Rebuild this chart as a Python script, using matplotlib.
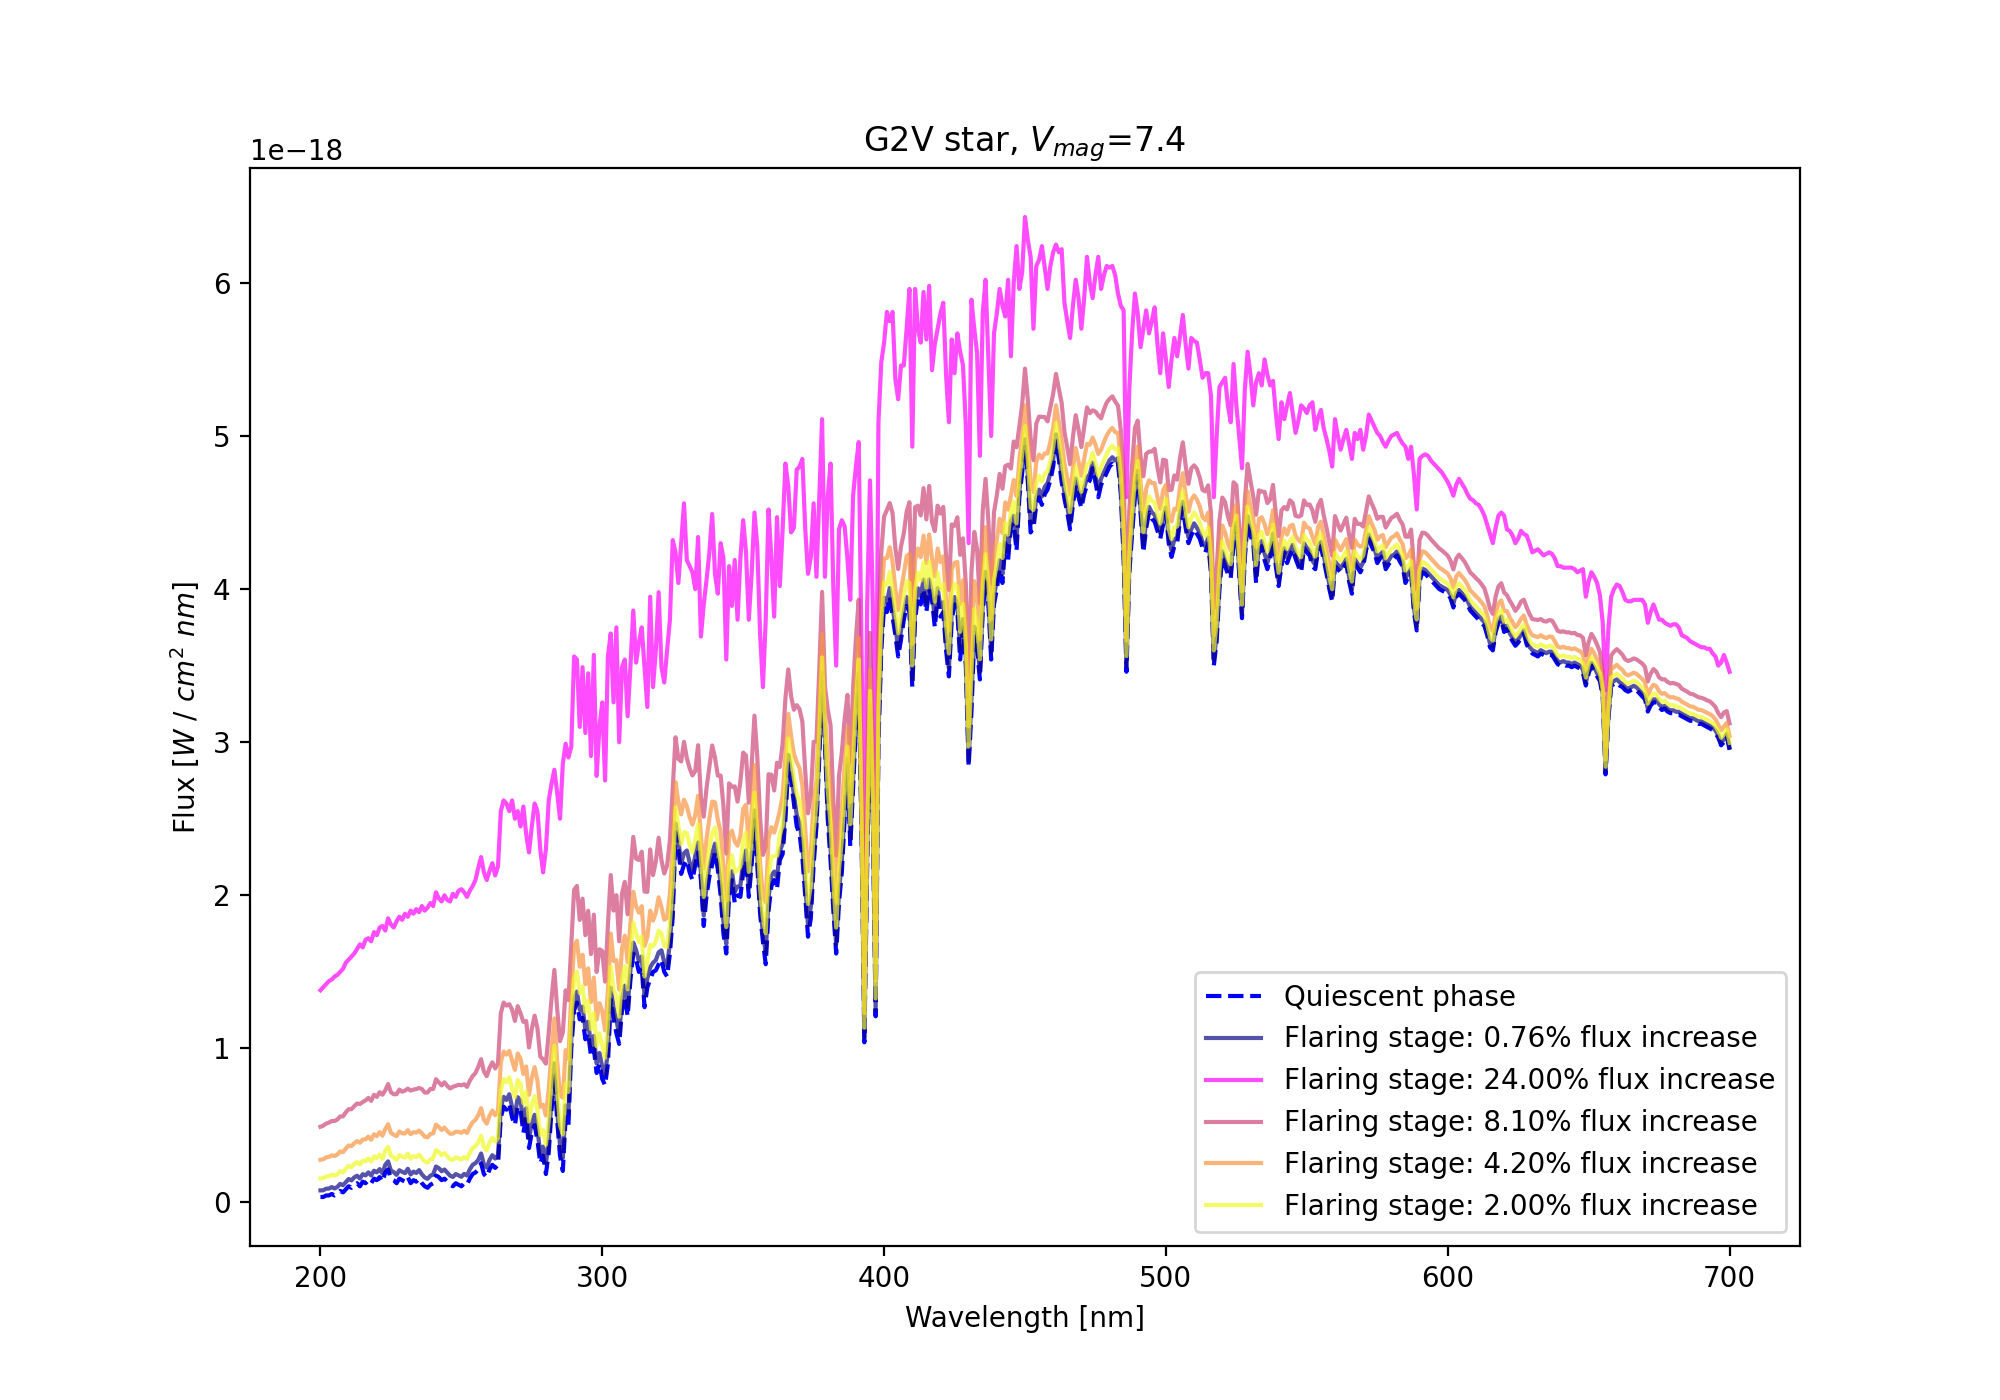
"""G2V star spectrum: quiescent phase vs. several flaring stages."""

import matplotlib
matplotlib.use("Agg")
import matplotlib.pyplot as plt
import numpy as np

# Quiescent flux, units of 1e-18 W/cm^2/nm, one sample per nm from 200 nm
quiescent = [
    0.03, 0.03, 0.04, 0.04, 0.05, 0.04, 0.05, 0.07, 0.06, 0.08,  # 200
    0.10, 0.09, 0.11, 0.12, 0.10, 0.13, 0.12, 0.14, 0.12, 0.15,  # 210
    0.14, 0.16, 0.13, 0.19, 0.21, 0.15, 0.14, 0.12, 0.15, 0.14,  # 220
    0.13, 0.16, 0.12, 0.14, 0.13, 0.15, 0.12, 0.10, 0.09, 0.11,  # 230
    0.12, 0.17, 0.16, 0.14, 0.15, 0.13, 0.11, 0.10, 0.12, 0.11,  # 240
    0.10, 0.12, 0.11, 0.15, 0.18, 0.19, 0.21, 0.25, 0.18, 0.16,  # 250
    0.21, 0.24, 0.22, 0.24, 0.55, 0.62, 0.60, 0.64, 0.55, 0.50,  # 260
    0.62, 0.60, 0.45, 0.55, 0.35, 0.45, 0.50, 0.40, 0.25, 0.30,  # 270
    0.18, 0.32, 0.60, 0.84, 0.53, 0.30, 0.20, 0.55, 0.50, 1.00,  # 280
    1.25, 1.30, 1.19, 1.20, 1.06, 1.10, 0.95, 1.00, 0.84, 0.90,  # 290
    0.80, 0.76, 0.90, 1.32, 1.20, 1.10, 1.03, 1.25, 1.34, 1.21,  # 300
    1.45, 1.62, 1.58, 1.50, 1.53, 1.27, 1.40, 1.45, 1.50, 1.51,  # 310
    1.55, 1.58, 1.50, 1.47, 1.62, 1.86, 2.41, 2.30, 2.14, 2.20,  # 320
    2.23, 2.15, 2.10, 2.20, 2.28, 2.10, 1.80, 2.00, 2.12, 2.20,  # 330
    2.28, 2.17, 2.00, 1.75, 1.62, 2.00, 2.10, 1.95, 2.00, 1.99,  # 340
    2.15, 2.23, 1.99, 2.20, 2.49, 2.20, 1.88, 1.70, 1.55, 1.90,  # 350
    2.06, 2.10, 2.04, 2.23, 2.27, 2.50, 2.86, 2.75, 2.60, 2.45,  # 360
    2.40, 2.25, 2.00, 1.73, 1.85, 2.20, 2.45, 2.90, 3.40, 3.00,  # 370
    2.50, 2.23, 1.90, 1.62, 1.95, 2.15, 2.50, 2.85, 2.32, 2.70,  # 380
    3.10, 3.40, 2.40, 1.04, 2.20, 3.20, 2.50, 1.21, 3.00, 3.60,  # 390
    3.89, 3.85, 3.95, 3.82, 3.70, 3.56, 3.67, 3.80, 3.89, 3.85,  # 400
    3.36, 3.80, 3.95, 3.90, 4.00, 3.85, 4.00, 3.93, 3.75, 3.95,  # 410
    3.82, 3.85, 3.60, 3.43, 3.80, 3.90, 3.85, 3.54, 3.75, 3.50,  # 420
    2.84, 3.20, 3.69, 3.60, 3.41, 3.85, 4.05, 3.90, 3.54, 3.90,  # 430
    4.00, 4.13, 4.04, 4.30, 4.19, 4.41, 4.43, 4.25, 4.60, 4.76,  # 440
    4.93, 4.70, 4.37, 4.40, 4.55, 4.60, 4.55, 4.62, 4.65, 4.71,  # 450
    4.80, 4.97, 4.85, 4.70, 4.59, 4.50, 4.39, 4.55, 4.68, 4.60,  # 460
    4.53, 4.62, 4.68, 4.71, 4.79, 4.70, 4.60, 4.68, 4.72, 4.76,  # 470
    4.80, 4.82, 4.80, 4.82, 4.62, 4.20, 3.46, 4.10, 4.36, 4.60,  # 480
    4.74, 4.50, 4.24, 4.40, 4.50, 4.46, 4.44, 4.38, 4.33, 4.42,  # 490
    4.50, 4.30, 4.21, 4.28, 4.30, 4.45, 4.53, 4.40, 4.30, 4.35,  # 500
    4.39, 4.36, 4.33, 4.27, 4.24, 4.30, 4.10, 3.50, 3.66, 4.00,  # 510
    4.21, 4.15, 4.10, 4.07, 4.30, 4.41, 4.10, 3.81, 4.20, 4.44,  # 520
    4.35, 4.30, 4.04, 4.25, 4.28, 4.19, 4.13, 4.20, 4.33, 4.15,  # 530
    4.02, 4.15, 4.24, 4.17, 4.22, 4.26, 4.20, 4.15, 4.11, 4.27,  # 540
    4.24, 4.22, 4.15, 4.13, 4.25, 4.28, 4.19, 4.10, 4.00, 3.92,  # 550
    4.15, 4.13, 4.11, 4.14, 4.17, 4.05, 3.97, 4.17, 4.14, 4.11,  # 560
    4.15, 4.25, 4.33, 4.28, 4.24, 4.17, 4.20, 4.22, 4.13, 4.16,  # 570
    4.19, 4.20, 4.22, 4.18, 4.15, 4.04, 4.08, 4.11, 3.85, 3.73,  # 580
    4.05, 4.11, 4.10, 4.08, 4.06, 4.04, 4.02, 4.00, 3.99, 3.98,  # 590
    3.97, 3.94, 3.88, 3.95, 3.97, 3.95, 3.93, 3.90, 3.86, 3.84,  # 600
    3.82, 3.80, 3.78, 3.76, 3.70, 3.62, 3.60, 3.72, 3.78, 3.80,  # 610
    3.72, 3.74, 3.69, 3.66, 3.63, 3.65, 3.68, 3.71, 3.64, 3.60,  # 620
    3.58, 3.57, 3.56, 3.58, 3.57, 3.56, 3.57, 3.57, 3.54, 3.51,  # 630
    3.50, 3.51, 3.50, 3.50, 3.49, 3.50, 3.49, 3.48, 3.45, 3.37,  # 640
    3.45, 3.50, 3.47, 3.43, 3.40, 3.30, 2.79, 3.15, 3.37, 3.38,  # 650
    3.39, 3.37, 3.36, 3.34, 3.33, 3.34, 3.35, 3.34, 3.32, 3.30,  # 660
    3.28, 3.20, 3.24, 3.26, 3.26, 3.23, 3.21, 3.22, 3.20, 3.19,  # 670
    3.19, 3.18, 3.18, 3.17, 3.16, 3.15, 3.14, 3.14, 3.13, 3.12,  # 680
    3.12, 3.11, 3.10, 3.09, 3.08, 3.06, 3.03, 2.98, 3.00, 3.04,  # 690
    2.95,                                                        # 700
]

# Strongest flare (24.00 % flux increase), same grid
flare_24 = [
    1.38, 1.40, 1.42, 1.44, 1.45, 1.47, 1.48, 1.50, 1.52, 1.56,  # 200
    1.58, 1.60, 1.62, 1.65, 1.68, 1.66, 1.71, 1.72, 1.70, 1.76,  # 210
    1.74, 1.79, 1.80, 1.77, 1.85, 1.81, 1.79, 1.83, 1.86, 1.84,  # 220
    1.88, 1.86, 1.90, 1.88, 1.91, 1.89, 1.93, 1.90, 1.92, 1.95,  # 230
    1.93, 2.02, 1.98, 1.96, 2.00, 1.97, 1.96, 2.01, 1.99, 2.03,  # 240
    2.04, 2.02, 1.99, 2.03, 2.06, 2.10, 2.18, 2.25, 2.15, 2.10,  # 250
    2.16, 2.21, 2.13, 2.19, 2.55, 2.62, 2.60, 2.55, 2.62, 2.50,  # 260
    2.55, 2.45, 2.58, 2.40, 2.28, 2.45, 2.60, 2.55, 2.30, 2.15,  # 270
    2.30, 2.62, 2.73, 2.82, 2.67, 2.50, 2.86, 2.99, 2.90, 2.97,  # 280
    3.56, 3.54, 3.10, 3.49, 3.06, 3.45, 2.91, 3.57, 2.78, 3.10,  # 290
    3.26, 2.75, 3.56, 3.71, 3.26, 3.75, 3.00, 3.49, 3.54, 3.17,  # 300
    3.50, 3.86, 3.52, 3.65, 3.75, 3.49, 3.23, 3.95, 3.36, 3.60,  # 310
    3.98, 3.49, 3.39, 3.60, 3.80, 4.32, 4.24, 4.04, 4.30, 4.56,  # 320
    4.19, 4.15, 4.11, 4.00, 4.34, 3.69, 3.90, 4.06, 4.24, 4.49,  # 330
    4.10, 3.97, 4.30, 4.20, 3.54, 4.15, 3.89, 4.19, 3.80, 4.20,  # 340
    4.45, 4.24, 3.80, 4.10, 4.50, 4.28, 3.71, 3.36, 3.80, 4.52,  # 350
    4.20, 3.82, 4.47, 4.02, 4.39, 4.82, 4.67, 4.37, 4.40, 4.78,  # 360
    4.80, 4.85, 4.40, 4.10, 4.21, 4.56, 4.08, 4.60, 5.11, 4.08,  # 370
    4.60, 4.82, 4.00, 3.50, 4.39, 4.45, 4.41, 4.20, 3.93, 4.61,  # 380
    4.80, 4.96, 3.60, 2.10, 3.90, 4.71, 3.90, 2.50, 5.09, 5.48,  # 390
    5.61, 5.81, 5.75, 5.81, 5.37, 5.24, 5.46, 5.46, 5.70, 5.96,  # 400
    4.93, 5.96, 5.70, 5.61, 5.94, 5.63, 5.98, 5.43, 5.60, 5.70,  # 410
    5.80, 5.87, 5.40, 5.09, 5.63, 5.41, 5.67, 5.55, 5.46, 5.07,  # 420
    4.30, 5.89, 5.70, 5.54, 4.87, 5.80, 6.02, 5.50, 5.00, 5.67,  # 430
    5.80, 5.96, 5.85, 5.78, 6.02, 5.52, 6.00, 6.24, 5.96, 6.07,  # 440
    6.43, 6.28, 6.17, 5.70, 6.11, 6.15, 6.24, 6.10, 5.96, 6.11,  # 450
    6.20, 6.25, 6.20, 6.22, 5.87, 5.75, 5.64, 5.85, 6.02, 5.90,  # 460
    5.70, 5.90, 6.17, 6.00, 5.90, 6.05, 6.17, 5.96, 6.05, 6.11,  # 470
    6.10, 6.11, 6.05, 5.93, 5.85, 5.82, 4.60, 5.30, 5.67, 5.93,  # 480
    5.80, 5.58, 5.70, 5.82, 5.67, 5.75, 5.84, 5.60, 5.41, 5.67,  # 490
    5.50, 5.32, 5.50, 5.64, 5.52, 5.65, 5.79, 5.60, 5.44, 5.64,  # 500
    5.62, 5.61, 5.50, 5.38, 5.41, 5.41, 5.26, 4.60, 5.00, 5.32,  # 510
    5.35, 5.38, 5.20, 5.09, 5.47, 5.20, 5.00, 4.79, 5.30, 5.55,  # 520
    5.40, 5.20, 5.35, 5.41, 5.33, 5.50, 5.40, 5.33, 5.36, 5.15,  # 530
    4.98, 5.22, 5.11, 5.20, 5.28, 5.15, 5.02, 5.10, 5.20, 5.18,  # 540
    5.15, 5.20, 5.22, 5.04, 5.12, 5.17, 5.05, 4.98, 4.90, 4.80,  # 550
    5.11, 5.00, 4.91, 4.98, 5.04, 4.95, 4.85, 5.02, 4.98, 5.04,  # 560
    4.91, 5.00, 5.14, 5.10, 5.06, 5.02, 5.00, 4.96, 4.93, 4.97,  # 570
    5.00, 5.01, 5.02, 4.98, 4.95, 4.93, 4.85, 4.93, 4.75, 4.52,  # 580
    4.85, 4.87, 4.88, 4.87, 4.84, 4.82, 4.80, 4.78, 4.76, 4.73,  # 590
    4.70, 4.66, 4.61, 4.68, 4.72, 4.69, 4.66, 4.62, 4.59, 4.58,  # 600
    4.56, 4.55, 4.52, 4.48, 4.42, 4.36, 4.30, 4.40, 4.48, 4.50,  # 610
    4.48, 4.39, 4.38, 4.35, 4.30, 4.33, 4.38, 4.36, 4.35, 4.30,  # 620
    4.24, 4.25, 4.26, 4.24, 4.22, 4.23, 4.24, 4.23, 4.20, 4.15,  # 630
    4.15, 4.14, 4.14, 4.14, 4.14, 4.13, 4.11, 4.12, 4.13, 3.95,  # 640
    4.05, 4.11, 4.08, 4.04, 3.96, 3.78, 3.34, 3.74, 3.95, 4.00,  # 650
    4.03, 4.02, 3.98, 3.93, 3.92, 3.92, 3.93, 3.93, 3.93, 3.93,  # 660
    3.90, 3.78, 3.85, 3.90, 3.85, 3.80, 3.80, 3.78, 3.77, 3.76,  # 670
    3.77, 3.77, 3.75, 3.70, 3.69, 3.68, 3.66, 3.65, 3.64, 3.63,  # 680
    3.62, 3.62, 3.61, 3.61, 3.58, 3.56, 3.50, 3.52, 3.57, 3.52,  # 690
    3.46,                                                        # 700
]

# Weaker stages sit between quiescent and the 24 % flare; the share of the
# 24 % excess each one carries was read off the blue end and red end.
stage_labels = ["0.76", "24.00", "8.10", "4.20", "2.00"]
stage_excess_share = [0.032, 1.0, 0.34, 0.18, 0.09]
stage_colors = ["#0d0887", "magenta", "#cc4778", "#f89540", "#f0f921"]

assert len(quiescent) == len(flare_24)
wavelength = np.arange(200, 200 + len(quiescent))
q = np.array(quiescent) * 1e-18
excess = np.array(flare_24) * 1e-18 - q

fig, ax = plt.subplots(figsize=(10, 7), dpi=200)
ax.plot(wavelength, q, "b--", label="Quiescent phase")
for lab, share, col in zip(stage_labels, stage_excess_share, stage_colors):
    ax.plot(wavelength, q + share * excess, color=col, alpha=0.7,
            label=f"Flaring stage: {lab}% flux increase")

ax.set_title(r"G2V star, $V_{mag}$=7.4")
ax.set_xlabel("Wavelength [nm]")
ax.set_ylabel(r"Flux [$W\ /\ cm^2\ nm$]")
ax.legend(loc="lower right")

fig.savefig("out.png", dpi=200)
